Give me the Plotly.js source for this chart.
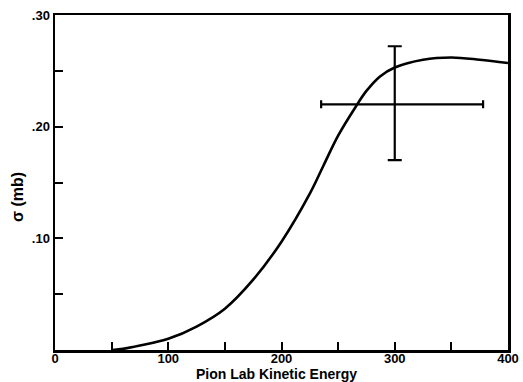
<!DOCTYPE html>
<html>
<head>
<meta charset="utf-8">
<script src="https://cdn.plot.ly/plotly-3.0.1.min.js"></script>
<style>html,body{margin:0;padding:0;background:#fff}#chart{width:523px;height:382px}</style>
</head>
<body>
<div id="chart"></div>
<script>
// Curve: pion lab kinetic energy vs cross section
const curveX = [51, 60, 75, 100, 125, 150, 175, 200, 225, 237, 250, 265, 275, 287, 300, 325, 350, 375, 400];
const curveY = [0.0, 0.001, 0.004, 0.010, 0.021, 0.037, 0.063, 0.097, 0.140, 0.165, 0.192, 0.217, 0.232, 0.245, 0.253, 0.260, 0.262, 0.260, 0.257];

// Measured point with asymmetric errors
const pointX = [300];
const pointY = [0.22];
const errXMinus = [65];
const errXPlus = [78];
const errYMinus = [0.05];
const errYPlus = [0.052];

// Ticks
const xTickVals = [0, 50, 100, 150, 200, 250, 300, 350, 400];
const xTickText = ['0', '', '100', '', '200', '', '300', '', '400'];
const yTickVals = [0.05, 0.10, 0.15, 0.20, 0.25, 0.30];
const yTickText = ['', '.10', '', '.20', '', '.30'];

const fontFam = 'Liberation Sans, Arial, sans-serif';

const traces = [
  {
    x: curveX, y: curveY, type: 'scatter', mode: 'lines',
    line: {color: '#000', width: 2.6, shape: 'spline', smoothing: 1.0},
    hoverinfo: 'skip'
  },
  {
    x: pointX, y: pointY, type: 'scatter', mode: 'markers',
    marker: {size: 1, color: '#000'},
    error_x: {type: 'data', symmetric: false, array: errXPlus, arrayminus: errXMinus, color: '#000', thickness: 2.2, width: 4},
    error_y: {type: 'data', symmetric: false, array: errYPlus, arrayminus: errYMinus, color: '#000', thickness: 2.2, width: 7}
  }
];

const layout = {
  width: 523, height: 382,
  margin: {l: 55, r: 15, t: 15, b: 32},
  paper_bgcolor: '#fff', plot_bgcolor: '#fff',
  showlegend: false,
  font: {family: fontFam, color: '#000', size: 13, weight: 'bold'},
  xaxis: {
    range: [0, 400], showgrid: false, zeroline: false,
    showline: true, linecolor: '#000', linewidth: 2.5, mirror: true,
    ticks: 'inside', ticklen: 8, tickwidth: 2, tickcolor: '#000',
    tickmode: 'array', tickvals: xTickVals, ticktext: xTickText,
    ticklabelstandoff: -5,
    tickfont: {family: fontFam, size: 13, weight: 'bold'}
  },
  yaxis: {
    range: [0, 0.30], showgrid: false, zeroline: false,
    showline: true, linecolor: '#000', linewidth: 2.5, mirror: true,
    ticks: 'inside', ticklen: 8, tickwidth: 2, tickcolor: '#000',
    tickmode: 'array', tickvals: yTickVals, ticktext: yTickText,
    tickfont: {family: fontFam, size: 13, weight: 'bold'}
  },
  annotations: [
    {
      text: 'σ (mb)', xref: 'paper', yref: 'paper', x: 0, y: 0.457,
      xanchor: 'center', yanchor: 'middle', xshift: -37, textangle: -90,
      showarrow: false, font: {family: fontFam, size: 16, weight: 'bold', color: '#000'}
    },
    {
      text: 'Pion Lab Kinetic Energy', xref: 'paper', yref: 'paper', x: 0.49, y: 0,
      xanchor: 'center', yanchor: 'middle', yshift: -24,
      showarrow: false, font: {family: fontFam, size: 14, weight: 'bold', color: '#000'}
    }
  ]
};

Plotly.newPlot('chart', traces, layout, {displayModeBar: false, staticPlot: true});
</script>
</body>
</html>
